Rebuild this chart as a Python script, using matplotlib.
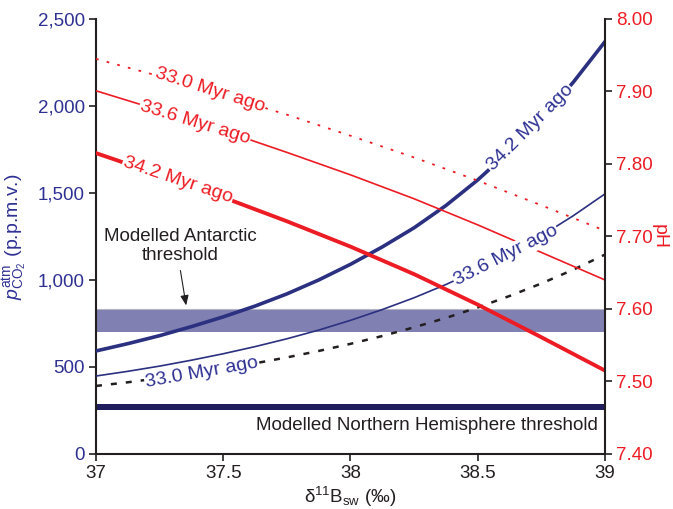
import matplotlib
matplotlib.use('Agg')
import matplotlib.pyplot as plt

plt.rcParams['font.family'] = ['Liberation Sans', 'DejaVu Sans']
plt.rcParams['mathtext.fontset'] = 'custom'
plt.rcParams['mathtext.rm'] = 'Liberation Sans'
plt.rcParams['mathtext.it'] = 'Liberation Sans:italic'

BLUE = '#2b3080'
BLUE_TXT = '#2e3192'
RED = '#ed1c24'
DARK = '#231f20'

# boron isotope composition of seawater (x axis), fine grid for pCO2 curves
d11b_fine = [37.0, 37.125, 37.25, 37.375, 37.5, 37.625, 37.75, 37.875, 38.0,
             38.125, 38.25, 38.375, 38.5, 38.625, 38.75, 38.875, 39.0]
# coarser grid for the (almost straight) pH curves
d11b = [37.0, 37.25, 37.5, 37.75, 38.0, 38.25, 38.5, 38.75, 39.0]

# pCO2 (p.p.m.v.), left axis
pco2_342 = [592, 634, 680, 732, 788, 850, 920, 1000, 1090,
            1190, 1300, 1428, 1575, 1742, 1928, 2136, 2370]
pco2_336 = [448, 475, 505, 539, 576, 617, 662, 712, 768,
            830, 898, 974, 1058, 1151, 1254, 1369, 1495]
pco2_330 = [391, 412, 436, 461, 490, 521, 555, 592, 633,
            678, 728, 782, 842, 908, 980, 1059, 1146]

# pH, right axis
ph_342 = [7.815, 7.785, 7.754, 7.721, 7.686, 7.648, 7.606, 7.561, 7.515]
ph_336 = [7.901, 7.874, 7.846, 7.816, 7.785, 7.752, 7.716, 7.678, 7.640]
ph_330 = [7.945, 7.921, 7.895, 7.868, 7.839, 7.809, 7.777, 7.743, 7.708]

antarctic_band = (700, 832)
nh_band = (250, 290)

fig = plt.figure(figsize=(6.73, 5.09), dpi=100)
ax = fig.add_axes([0.1426, 0.1081, 0.7564, 0.8546])
ax2 = ax.twinx()

# thresholds
ax.axhspan(antarctic_band[0], antarctic_band[1], color='#8080b2', lw=0, zorder=1)
ax.axhline(antarctic_band[1], color='#b4b4c4', lw=0.8, zorder=1)
ax.axhspan(nh_band[0], nh_band[1], color='#201d5e', lw=0, zorder=1)

# pCO2 curves
ax.plot(d11b_fine, pco2_330, color=DARK, lw=1.8, dashes=(2.4, 3.6), zorder=2)
ax.plot(d11b_fine, pco2_336, color=BLUE, lw=1.2, zorder=4)
ax.plot(d11b_fine, pco2_342, color=BLUE, lw=2.6, zorder=4)

# pH curves
ax2.plot(d11b, ph_330, color=RED, lw=1.3, dashes=(1.5, 4.6), zorder=2)
ax2.plot(d11b, ph_336, color=RED, lw=1.2, zorder=2)
ax2.plot(d11b, ph_342, color=RED, lw=2.8, zorder=2)

box = dict(boxstyle='square,pad=0.05', fc='white', ec='none')
fs_lab = 14

ax.text(37.416, 465, '33.0 Myr ago', color=BLUE_TXT, fontsize=fs_lab, rotation=10,
        ha='center', va='center', rotation_mode='anchor', bbox=box, zorder=3)
ax2.text(38.611, 1138, '33.6 Myr ago', color=BLUE_TXT, fontsize=fs_lab, rotation=27,
         ha='center', va='center', rotation_mode='anchor', bbox=box, zorder=5,
         transform=ax.transData)
ax2.text(38.705, 1874, '34.2 Myr ago', color=BLUE_TXT, fontsize=fs_lab, rotation=45,
         ha='center', va='center', rotation_mode='anchor', bbox=box, zorder=5,
         transform=ax.transData)

ax2.text(37.448, 7.902, '33.0 Myr ago', color=RED, fontsize=fs_lab, rotation=-17.5,
         ha='center', va='center', rotation_mode='anchor', bbox=box, zorder=5)
ax2.text(37.389, 7.857, '33.6 Myr ago', color=RED, fontsize=fs_lab, rotation=-17,
         ha='center', va='center', rotation_mode='anchor', bbox=box, zorder=5)
ax2.text(37.322, 7.778, '34.2 Myr ago', color=RED, fontsize=fs_lab, rotation=-18.5,
         ha='center', va='center', rotation_mode='anchor', bbox=box, zorder=5)

ax2.text(37.33, 1195, 'Modelled Antarctic\nthreshold', color=DARK, fontsize=13.5,
         ha='center', va='center', linespacing=1.15, transform=ax.transData, zorder=5)
ax2.annotate('', xy=(37.356, 838), xytext=(37.33, 1070),
             xycoords=ax.transData, textcoords=ax.transData,
             arrowprops=dict(arrowstyle='-|>,head_length=0.6,head_width=0.25',
                             color=DARK, lw=0.8), zorder=5)
ax2.text(38.972, 163, 'Modelled Northern Hemisphere threshold', color=DARK,
         fontsize=13.5, ha='right', va='center', transform=ax.transData, zorder=5)

# axes
ax.set_xlim(37, 39)
ax.set_ylim(0, 2500)
ax2.set_ylim(7.40, 8.00)

ax.set_xticks([37, 37.5, 38, 38.5, 39])
ax.set_xticklabels(['37', '37.5', '38', '38.5', '39'])
ax.set_yticks([0, 500, 1000, 1500, 2000, 2500])
ax.set_yticklabels(['0', '500', '1,000', '1,500', '2,000', '2,500'])
ax2.set_yticks([7.4, 7.5, 7.6, 7.7, 7.8, 7.9, 8.0])
ax2.set_yticklabels(['%.2f' % v for v in [7.4, 7.5, 7.6, 7.7, 7.8, 7.9, 8.0]])

ax.tick_params(axis='x', direction='out', length=5, width=1.2, colors=DARK,
               labelsize=13.5, pad=3)
ax.tick_params(axis='y', direction='out', length=5, width=1.2, color=DARK,
               labelcolor=BLUE_TXT, labelsize=13.5, pad=3)
ax2.tick_params(axis='y', direction='out', length=5, width=1.2, color=DARK,
                labelcolor=RED, labelsize=13.5, pad=3)

for a in (ax, ax2):
    a.spines['top'].set_visible(False)
    for s in a.spines.values():
        s.set_linewidth(1.5)
        s.set_color(DARK)
ax.spines['right'].set_visible(False)
ax2.spines['left'].set_visible(False)
ax2.spines['bottom'].set_visible(False)

ax.set_ylabel(r'$p_{\mathrm{CO}_2}^{\mathrm{atm}}$ (p.p.m.v.)', color=BLUE_TXT,
              fontsize=14, labelpad=6)
ax.set_xlabel('δ$^{11}$B$_{\mathrm{sw}}$ (‰)', color=DARK, fontsize=13.5, labelpad=2)
ax2.set_ylabel('pH', color=RED, fontsize=14, rotation=270, labelpad=11)

fig.savefig('out.png', dpi=100)
